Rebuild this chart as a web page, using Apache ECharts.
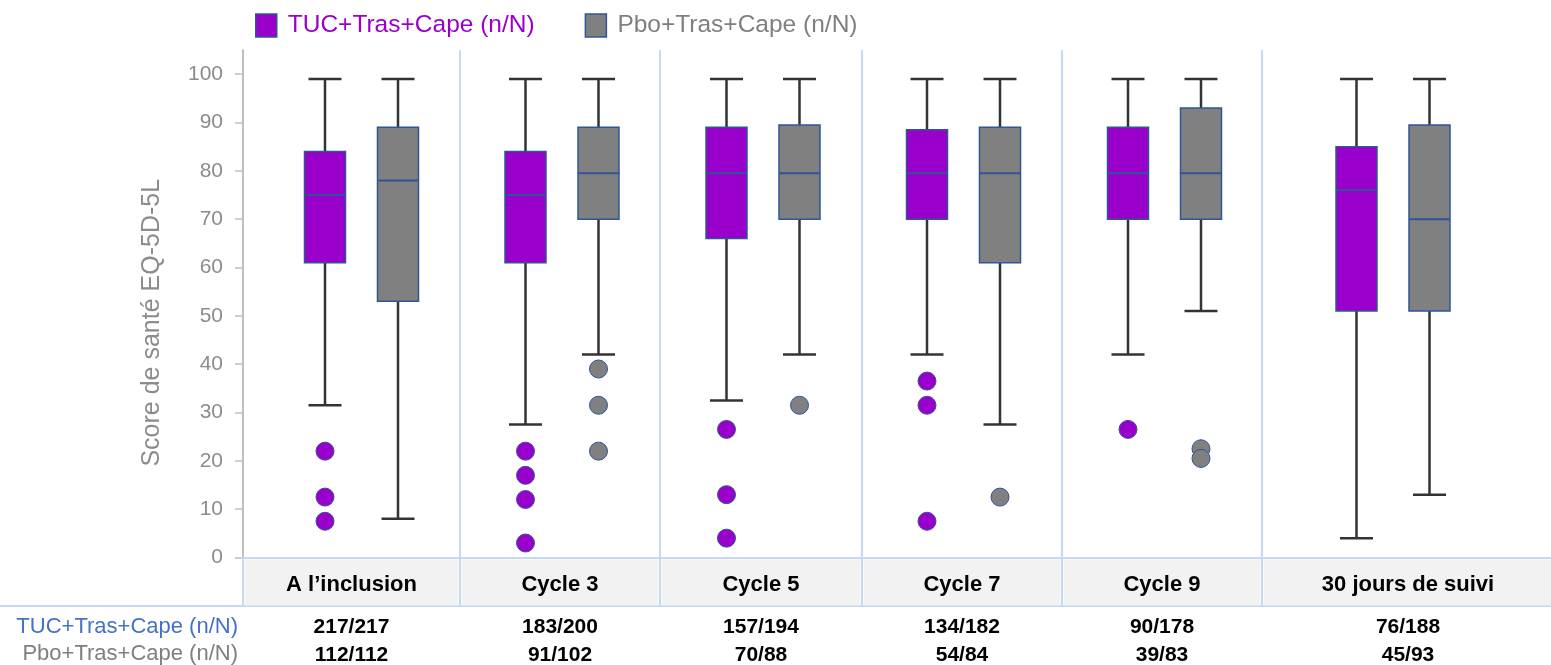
<!DOCTYPE html>
<html>
<head>
<meta charset="utf-8">
<script src="https://cdn.jsdelivr.net/npm/echarts@6/dist/echarts.min.js"></script>
<style>
  html, body { margin: 0; padding: 0; background: #ffffff; }
  #chart { width: 1551px; height: 665px; }
</style>
</head>
<body>
<div id="chart"></div>
<script>
// ---- Data -------------------------------------------------------------
const categories = ['A l’inclusion', 'Cycle 3', 'Cycle 5', 'Cycle 7', 'Cycle 9', '30 jours de suivi'];
const yTicks = [0, 10, 20, 30, 40, 50, 60, 70, 80, 90, 100];

// Box summaries: [min, Q1, median, Q3, max]
const tucBoxes = [
  [31.5, 61, 75, 84, 99],
  [27.5, 61, 75, 84, 99],
  [32.5, 66, 79.5, 89, 99],
  [42, 70, 79.5, 88.5, 99],
  [42, 70, 79.5, 89, 99],
  [4, 51, 76, 85, 99]
];
const pboBoxes = [
  [8, 53, 78, 89, 99],
  [42, 70, 79.5, 89, 99],
  [42, 70, 79.5, 89.5, 99],
  [27.5, 61, 79.5, 89, 99],
  [51, 70, 79.5, 93, 99],
  [13, 51, 70, 89.5, 99]
];
const tucOutliers = [[22, 12.5, 7.5], [22, 17, 12, 3], [26.5, 13, 4], [36.5, 31.5, 7.5], [26.5], []];
const pboOutliers = [[], [39, 31.5, 22], [31.5], [12.5], [22.5, 20.5], []];

// Patients assessed / patients at risk
const tucN = [217, 183, 157, 134, 90, 76];
const tucTotal = [217, 200, 194, 182, 178, 188];
const pboN = [112, 91, 70, 54, 39, 45];
const pboTotal = [112, 102, 88, 84, 83, 93];

// ---- Layout & style ----------------------------------------------------
const FONT = '"Liberation Sans", Arial, Helvetica, sans-serif';
const columnEdges = [243, 460, 660, 862, 1062, 1262, 1554];
const pairShift = [10, 2, 2, 1.5, 2.5, -15];
const HALF_SPACING = 36.5;
const BOX_W = 41;
const CAP_W = 33;
const PLOT_TOP = 50;
const PLOT_BOTTOM = 107.5;
const Y_MAX = 105;
const SEP_COLOR = '#C5D9F1';
const BOX_EDGE = '#2F5597';
const WHISKER = '#333333';

const groups = [
  { name: 'TUC+Tras+Cape (n/N)', fill: '#9900CC', text: '#9900CC', boxes: tucBoxes, outliers: tucOutliers, side: -1 },
  { name: 'Pbo+Tras+Cape (n/N)', fill: '#808080', text: '#7F7F7F', boxes: pboBoxes, outliers: pboOutliers, side: 1 }
];

function boxRenderer(dx, fill) {
  return function (params, api) {
    const cat = api.value(0);
    const yOf = (dim) => api.coord([cat, api.value(dim)])[1];
    const cx = api.coord([cat, 0])[0] + dx;
    const yMin = yOf(1), yQ1 = yOf(2), yMed = yOf(3), yQ3 = yOf(4), yMax = yOf(5);
    const whisker = { stroke: WHISKER, lineWidth: 2.5 };
    return {
      type: 'group',
      children: [
        { type: 'line', shape: { x1: cx, y1: yMax, x2: cx, y2: yQ3 }, style: whisker },
        { type: 'line', shape: { x1: cx, y1: yQ1, x2: cx, y2: yMin }, style: whisker },
        { type: 'line', shape: { x1: cx - CAP_W / 2, y1: yMax, x2: cx + CAP_W / 2, y2: yMax }, style: whisker },
        { type: 'line', shape: { x1: cx - CAP_W / 2, y1: yMin, x2: cx + CAP_W / 2, y2: yMin }, style: whisker },
        { type: 'rect', shape: { x: cx - BOX_W / 2, y: yQ3, width: BOX_W, height: yQ1 - yQ3 },
          style: { fill: fill, stroke: BOX_EDGE, lineWidth: 1.5 } },
        { type: 'line', shape: { x1: cx - BOX_W / 2, y1: yMed, x2: cx + BOX_W / 2, y2: yMed },
          style: { stroke: BOX_EDGE, lineWidth: 2 } }
      ]
    };
  };
}

const grids = [], xAxes = [], yAxes = [], series = [];

categories.forEach(function (cat, i) {
  const left = columnEdges[i];
  const width = columnEdges[i + 1] - columnEdges[i];
  grids.push({
    left: left, width: width, top: PLOT_TOP, bottom: PLOT_BOTTOM,
    containLabel: false, outerBoundsMode: 'none'
  });

  // Category header band (grey cell) with separators running through it
  xAxes.push({
    type: 'category', gridIndex: i, data: [cat], position: 'bottom', boundaryGap: true,
    axisLine: { show: true, lineStyle: { color: SEP_COLOR, width: 2 } },
    axisTick: { show: true, length: 49, lineStyle: { color: SEP_COLOR, width: 2 } },
    splitLine: { show: true, lineStyle: { color: SEP_COLOR, width: 2 } },
    axisLabel: {
      margin: 2, width: width - 3, height: 46, lineHeight: 50, align: 'center',
      backgroundColor: '#F2F2F2', fontSize: 22, fontWeight: 'bold', color: '#000000', fontFamily: FONT
    }
  });
  // n/N table rows under the header
  xAxes.push({
    type: 'category', gridIndex: i, data: [cat], position: 'bottom', boundaryGap: true,
    axisLine: { show: false }, axisTick: { show: false }, splitLine: { show: false },
    axisLabel: {
      margin: 56, lineHeight: 28, fontSize: 21, fontWeight: 'bold', color: '#000000', fontFamily: FONT,
      formatter: function () {
        return tucN[i] + '/' + tucTotal[i] + '\n' + pboN[i] + '/' + pboTotal[i];
      }
    }
  });

  yAxes.push({
    type: 'value', gridIndex: i, min: 0, max: Y_MAX, show: i === 0,
    name: i === 0 ? 'Score de santé EQ-5D-5L' : '',
    nameLocation: 'middle', nameGap: 78,
    nameTextStyle: { fontSize: 25, color: '#8C8C8C', fontFamily: FONT, padding: [0, 38, 0, 0] },
    axisLine: { show: true, lineStyle: { color: '#BFBFBF', width: 2 } },
    axisTick: { show: true, length: 8, customValues: yTicks, lineStyle: { color: '#BFBFBF', width: 1.5 } },
    axisLabel: { customValues: yTicks, margin: 20, fontSize: 21, color: '#8C8C8C', fontFamily: FONT },
    splitLine: { show: false }
  });

  groups.forEach(function (g) {
    const dx = pairShift[i] + g.side * HALF_SPACING;
    series.push({
      name: g.name, type: 'custom', xAxisIndex: 2 * i, yAxisIndex: i,
      itemStyle: { color: g.fill, borderColor: BOX_EDGE, borderWidth: 1.5 },
      encode: { x: 0, y: [1, 2, 3, 4, 5] },
      renderItem: boxRenderer(dx, g.fill),
      data: [[0].concat(g.boxes[i])],
      z: 2
    });
    series.push({
      name: g.name, type: 'scatter', xAxisIndex: 2 * i, yAxisIndex: i,
      symbol: 'circle', symbolSize: 18, symbolOffset: [dx, 0],
      itemStyle: { color: g.fill, borderColor: BOX_EDGE, borderWidth: 1, opacity: 1 },
      data: g.outliers[i].map(function (v) { return [0, v]; }),
      z: 3
    });
  });
});

const chart = echarts.init(document.getElementById('chart'), null, { renderer: 'canvas' });
chart.setOption({
  backgroundColor: '#ffffff',
  animation: false,
  legend: {
    left: 250, top: 8, itemWidth: 21, itemHeight: 23, itemGap: 50,
    icon: 'rect',
    data: groups.map(function (g) {
      return {
        name: g.name,
        itemStyle: { color: g.fill, borderColor: BOX_EDGE, borderWidth: 1.5 },
        textStyle: { color: g.text, fontSize: 24.5, fontFamily: FONT, padding: [0, 0, 0, 6] }
      };
    })
  },
  grid: grids,
  xAxis: xAxes,
  yAxis: yAxes,
  series: series,
  graphic: [
    { type: 'line', silent: true, shape: { x1: 0, y1: 606, x2: 1551, y2: 606 },
      style: { stroke: SEP_COLOR, lineWidth: 2 } },
    { type: 'text', silent: true, x: 238, y: 627,
      style: { text: groups[0].name, fill: '#4472C4', font: '22px ' + FONT, textAlign: 'right', textVerticalAlign: 'middle' } },
    { type: 'text', silent: true, x: 238, y: 654,
      style: { text: groups[1].name, fill: '#7F7F7F', font: '22px ' + FONT, textAlign: 'right', textVerticalAlign: 'middle' } }
  ]
});
</script>
</body>
</html>
